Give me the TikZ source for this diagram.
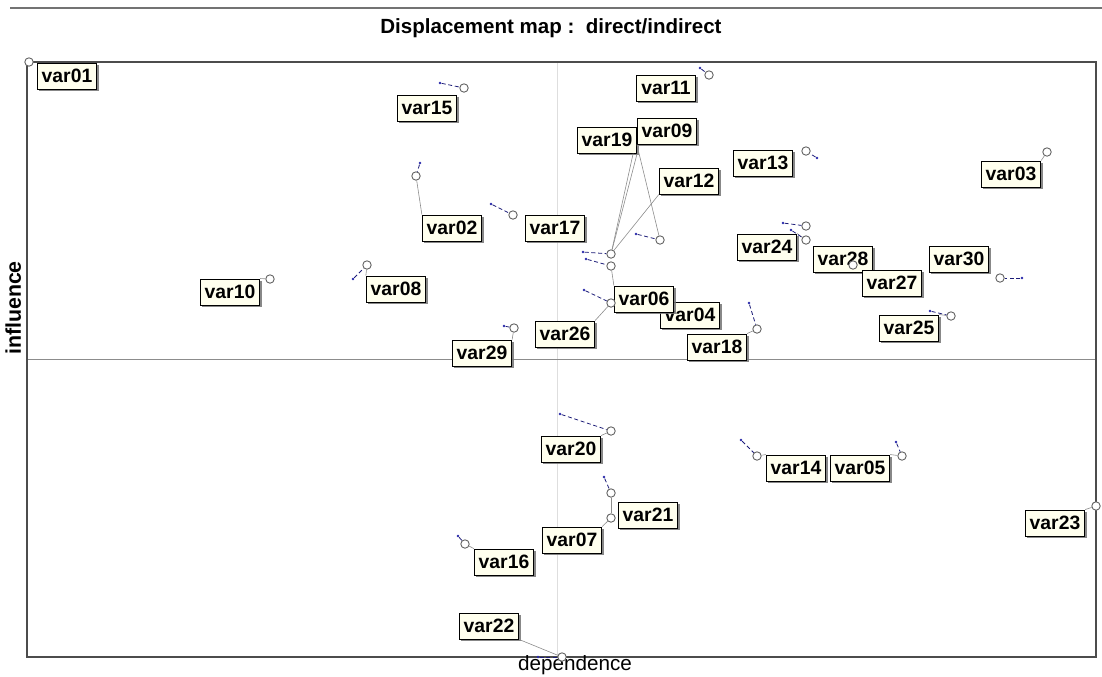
\documentclass[tikz,border=0pt]{standalone}
\usepackage{fontspec}
\setmainfont{Liberation Sans}
\usetikzlibrary{shadows}
\definecolor{cream}{RGB}{255,255,238}
\definecolor{mvblue}{RGB}{40,40,170}
\tikzset{
  lbl/.style={draw=black, line width=0.7pt, fill=cream, font=\bfseries\fontsize{14.5}{16}\selectfont,
    minimum width=44.5pt, minimum height=19.5pt, inner sep=0pt,
    drop shadow={shadow xshift=1.6pt, shadow yshift=-1.6pt, fill=black!55, opacity=0.85}},
  pnt/.style={circle, draw=black!60, fill=white, line width=0.7pt, inner sep=0pt, minimum size=6.3pt},
  bdot/.style={circle, fill=mvblue, inner sep=0pt, minimum size=2.2pt},
  mvline/.style={draw=mvblue!70!black, line width=0.6pt, densely dashed},
  link/.style={draw=black!45, line width=0.45pt},
}
\begin{document}
\begin{tikzpicture}[x=0.75pt,y=-0.75pt]
\useasboundingbox (0,0) rectangle (1102,676);
% header line and title
\draw[black!55, line width=1.5pt] (10,8) -- (1102,8);
\node[font=\bfseries\fontsize{15.4}{17}\selectfont] (title) at (551,28) {Displacement map :\ \ direct/indirect};
% plot frame and axes
\draw[black!13, line width=0.6pt] (557,62) -- (557,657);
\draw[black!45, line width=0.7pt] (27,359) -- (1096,359);
\draw[black!70, line width=1pt] (27,62) rectangle (1096,657);
\node[font=\bfseries\fontsize{16}{18}\selectfont, rotate=90, anchor=base] (ylab) at (21,308) {influence};
\node[font=\fontsize{15.5}{18}\selectfont, anchor=base] (xlab) at (575,670.5) {dependence};
% labels
\node[lbl] (v01) at (67,76) {var01};
\node[lbl] (v15) at (427,108) {var15};
\node[lbl] (v11) at (666,88) {var11};
\node[lbl] (v19) at (607,140) {var19};
\node[lbl] (v09) at (667,131) {var09};
\node[lbl] (v13) at (763,163) {var13};
\node[lbl] (v03) at (1011,174) {var03};
\node[lbl] (v12) at (689,181) {var12};
\node[lbl] (v02) at (452,228) {var02};
\node[lbl] (v17) at (555,228) {var17};
\node[lbl] (v24) at (767,247) {var24};
\node[lbl] (v28) at (843,259) {var28};
\node[lbl] (v30) at (959,259) {var30};
\node[lbl] (v27) at (892,283) {var27};
\node[lbl] (v10) at (230,292) {var10};
\node[lbl] (v08) at (396,289) {var08};
\node[lbl] (v04) at (690,315) {var04};
\node[lbl] (v06) at (644,299) {var06};
\node[lbl] (v25) at (909,328) {var25};
\node[lbl] (v26) at (565,334) {var26};
\node[lbl] (v29) at (482,353) {var29};
\node[lbl] (v18) at (717,347) {var18};
\node[lbl] (v20) at (571,449) {var20};
\node[lbl] (v14) at (796,468) {var14};
\node[lbl] (v05) at (860,468) {var05};
\node[lbl] (v21) at (648,515) {var21};
\node[lbl] (v07) at (572,540) {var07};
\node[lbl] (v23) at (1055,523) {var23};
\node[lbl] (v16) at (504,562) {var16};
\node[lbl] (v22) at (489,626) {var22};
% points
\node[pnt] (p01) at (29,62) {};
\node[pnt] (p15) at (464,88) {};
\node[pnt] (p11) at (709,75) {};
\node[pnt] (p13) at (806,151) {};
\node[pnt] (p03) at (1047,152) {};
\node[pnt] (p02) at (416,176) {};
\node[pnt] (p17) at (513,215) {};
\node[pnt] (pA) at (611,254) {};
\node[pnt] (pB) at (611,266) {};
\node[pnt] (pC) at (660,240) {};
\node[pnt] (p24a) at (806,226) {};
\node[pnt] (p24b) at (806,240) {};
\node[pnt] (p28) at (853,265) {};
\node[pnt] (p30) at (1000,278) {};
\node[pnt] (p10) at (270,279) {};
\node[pnt] (p08) at (367,265) {};
\node[pnt] (p06) at (611,303) {};
\node[pnt] (p18) at (757,329) {};
\node[pnt] (p25) at (951,316) {};
\node[pnt] (p29) at (514,328) {};
\node[pnt] (p20) at (611,431) {};
\node[pnt] (p14) at (757,456) {};
\node[pnt] (p05) at (902,456) {};
\node[pnt] (p21) at (611,493) {};
\node[pnt] (p07) at (611,518) {};
\node[pnt] (p23) at (1096,506) {};
\node[pnt] (p16) at (465,544) {};
\node[pnt] (p22) at (562,657) {};
% links between labels and points
\draw[link] (p03) -- (v03.north east);
\draw[link] (p02) -- (v02.north west);
\draw[link] (pA) -- (v19.south east);
\draw[link] (pA) -- ([xshift=-3pt]v19.south east);
\draw[link] (pC) -- (v09.south west);
\draw[link] (pA) -- (v12.south west);
\draw[link] (pB) -- (v06.north west);
\draw[link] (p24b) -- (v24.north east);
\draw[link] (p10) -- (v10.north east);
\draw[link] (p08) -- (v08.north west);
\draw[link] (p06) -- (v26.north east);
\draw[link] (p18) -- (v18.north east);
\draw[link] (p25) -- (v25.north east);
\draw[link] (p29) -- (v29.north east);
\draw[link] (p20) -- (v20.north east);
\draw[link] (p14) -- (v14.north west);
\draw[link] (p05) -- (v05.north east);
\draw[link] (p21) -- (p07);
\draw[link] (p07) -- (v07.north east);
\draw[link] (p23) -- (v23.north east);
\draw[link] (p16) -- (v16.north west);
\draw[link] (p22) -- (v22.south east);
% displacement segments
\foreach \p/\x/\y in {p15/440/83, p11/700/68, p13/817/158, p02/420/163, p17/491/204,
  pA/583/252, pB/586/259, pC/636/234, p24a/783/223, p24b/791/230, p30/1022/278,
  p08/353/279, p06/584/290, p18/749/303, p25/930/311, p29/504/326, p20/560/414,
  p14/741/440, p05/896/442, p21/604/477, p16/458/536, p22/538/657}{
  \node[bdot] (b\p) at (\x,\y) {};
  \draw[mvline] (b\p) -- (\p);
}
\end{tikzpicture}
\end{document}
